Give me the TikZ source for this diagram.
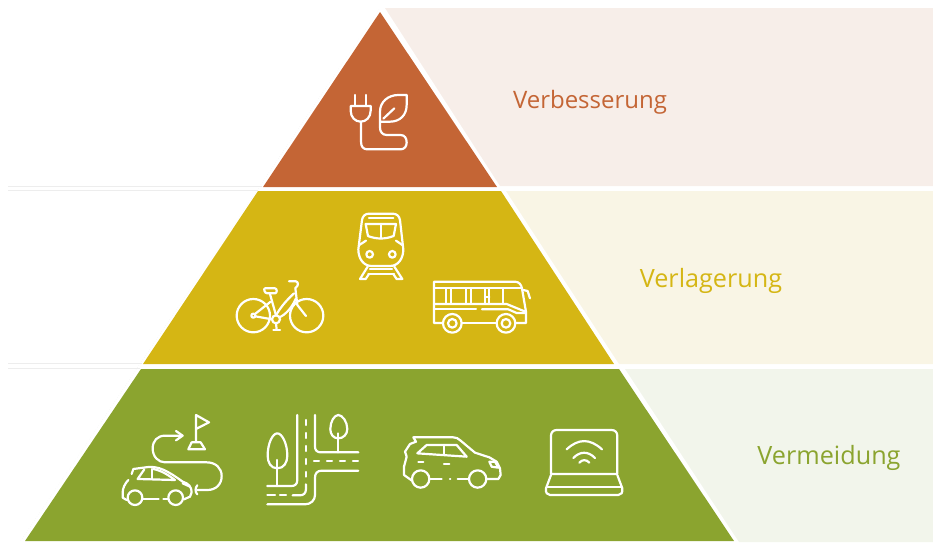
\documentclass[tikz,border=0pt]{standalone}
\usepackage{fontspec}
\setmainfont{Open Sans}
\definecolor{orangeband}{HTML}{C46535}
\definecolor{yellowband}{HTML}{D5B614}
\definecolor{greenband}{HTML}{8BA42F}
\definecolor{orangepanel}{HTML}{F7EEE9}
\definecolor{yellowpanel}{HTML}{F9F5E5}
\definecolor{greenpanel}{HTML}{F2F5EB}
\tikzset{
  icon/.style={draw=white, line width=2.2pt, line cap=round, line join=round},
  faint/.style={draw=black!7, line width=0.4pt},
  label/.style={font=\fontsize{24}{28}\selectfont},
  labelwide/.style={font=\fontsize{25.2}{29}\selectfont}
}
\begin{document}
\begin{tikzpicture}[x=1pt, y=-1pt]
        \useasboundingbox (0, 0) rectangle (933, 542);

        \fill [orangepanel] (385, 8) -- (933, 8) -- (933, 186) -- (500, 186) -- cycle;
        \fill [yellowpanel] (506, 191) -- (933, 191) -- (933, 364) -- (619, 364) -- cycle;
        \fill [greenpanel] (625, 369) -- (933, 369) -- (933, 542) -- (739, 542) -- cycle;

        \draw [faint] (8, 186) -- (262, 186);
        \draw [faint] (8, 190) -- (258, 190);
        \draw [faint] (8, 363) -- (142, 363);
        \draw [faint] (8, 368) -- (140, 368);
        \draw [faint, dotted] (379, 9) -- (20, 542);

        \fill [orangeband] (380, 12) -- (497, 187) -- (263, 187) -- cycle;
        \fill [yellowband] (258, 191) -- (501, 191) -- (614, 364) -- (143, 364) -- cycle;
        \fill [greenband] (141, 369) -- (619, 369) -- (734, 541) -- (25, 541) -- cycle;

        \node [label, text=orangeband] (verbesserung) at (590, 102) {Verbesserung};
        \node [labelwide, text=yellowband] (verlagerung) at (711, 281) {Verlagerung};
        \node [labelwide, text=greenband] (vermeidung) at (829, 458) {Vermeidung};

        % plug and leaf
        \begin{scope}[shift={(330, 80)}, x=0.3333pt, y=-0.3333pt]
          \draw [icon] (75, 45) -- (75, 78);
          \draw [icon] (107, 45) -- (107, 78);
          \draw [icon] (62, 78) -- (122, 78) -- (122, 92) .. controls (122, 112) and (108, 125) .. (92, 125)
            .. controls (76, 125) and (62, 112) .. (62, 92) -- cycle;
          \draw [icon] (93, 125) -- (93, 185) .. controls (93, 200) and (100, 208) .. (112, 208) -- (212, 208)
            .. controls (224, 208) and (230, 198) .. (230, 187) .. controls (230, 175) and (224, 165) .. (212, 165)
            -- (170, 165) .. controls (157, 165) and (150, 155) .. (150, 143) -- (150, 95)
            .. controls (150, 65) and (175, 45) .. (205, 45) -- (230, 45) -- (230, 75)
            .. controls (230, 105) and (210, 125) .. (180, 125) -- (152, 125);
          \draw [icon] (160, 116) -- (193, 85);
        \end{scope}

        % train
        \begin{scope}[shift={(220, 200)}, x=0.3333pt, y=-0.3333pt]
          \draw [icon] (415, 148) -- (426, 60) .. controls (428, 48) and (436, 41) .. (447, 41) -- (518, 41)
            .. controls (530, 41) and (538, 48) .. (540, 60) -- (550, 148)
            .. controls (550, 175) and (535, 198) .. (510, 198) -- (455, 198)
            .. controls (430, 198) and (415, 175) .. (415, 148);
          \draw [icon] (447, 54) -- (520, 54);
          \draw [icon] (437, 72) -- (528, 72) -- (521, 108) .. controls (495, 118) and (470, 118) .. (444, 108) -- cycle;
          \draw [icon] (483, 72) -- (483, 115);
          \draw [icon] (418, 135) -- (438, 122);
          \draw [icon] (547, 135) -- (528, 122);
          \draw [icon] (449, 163) circle (10);
          \draw [icon] (517, 163) circle (10);
          \draw [icon] (443, 200) -- (420, 237) -- (437, 237) -- (447, 222);
          \draw [icon] (523, 200) -- (547, 237) -- (530, 237) -- (520, 222);
          \draw [icon] (450, 208) -- (516, 208);
          \draw [icon] (445, 222) -- (522, 222);
        \end{scope}

        % bicycle
        \begin{scope}[shift={(220, 200)}, x=0.3333pt, y=-0.3333pt]
          \draw [icon] (100, 347) circle (50);
          \draw [icon] (260, 347) circle (50);
          \draw [icon] (100, 347) circle (6);
          \draw [icon] (168, 358) circle (12);
          \draw [icon] (135, 265) -- (165, 265) .. controls (172, 265) and (172, 280) .. (165, 280) -- (142, 280)
            .. controls (133, 280) and (130, 265) .. (135, 265);
          \draw [icon] (150, 282) -- (168, 346);
          \draw [icon] (105, 342) -- (152, 305);
          \draw [icon] (106, 349) -- (156, 358);
          \draw [icon] (168, 346) .. controls (180, 325) and (195, 305) .. (222, 280);
          \draw [icon] (178, 352) .. controls (195, 345) and (215, 325) .. (228, 295);
          \draw [icon] (207, 244) -- (228, 244) .. controls (236, 246) and (236, 258) .. (226, 264) -- (232, 315) -- (258, 348);
          \draw [icon] (168, 370) -- (170, 389);
          \draw [icon] (160, 390) -- (180, 390);
        \end{scope}

        % bus
        \begin{scope}[shift={(220, 200)}, x=0.3333pt, y=-0.3333pt]
          \draw [icon] (668, 369) -- (642, 369) -- (642, 245) -- (885, 245) .. controls (898, 245) and (904, 255) .. (906, 265)
            -- (918, 335) -- (918, 369) -- (887, 369);
          \draw [icon] (726, 369) -- (829, 369);
          \draw [icon] (697, 370) circle (28);
          \draw [icon] (697, 370) circle (13);
          \draw [icon] (858, 370) circle (28);
          \draw [icon] (858, 370) circle (13);
          \draw [icon] (642, 265) -- (905, 265);
          \draw [icon] (642, 312) -- (860, 312) -- (916, 335);
          \draw [icon] (642, 328) -- (768, 328);
          \draw [icon] (786, 328) -- (865, 328) -- (890, 339) -- (918, 339);
          \foreach \winx in {678, 692, 738, 752, 795, 808, 850} {
            \draw [icon] (\winx, 265) -- (\winx, 310);
          }
          \draw [icon] (795, 290) -- (808, 290);
          \draw [icon] (910, 270) -- (923, 273) -- (930, 295);
        \end{scope}

        % route with flag and small car
        \begin{scope}[shift={(110, 405)}, x=0.3333pt, y=-0.3333pt]
          \draw [icon] (258, 110) -- (258, 30) -- (297, 52) -- (258, 72);
          \draw [icon] (245, 112) -- (272, 112) -- (285, 133) -- (235, 133) -- cycle;
          \draw [icon] (198, 78) -- (218, 92) -- (198, 106);
          \draw [icon] (215, 92) -- (165, 92) .. controls (142, 92) and (128, 108) .. (128, 130)
            .. controls (128, 155) and (145, 172) .. (165, 172) -- (290, 172)
            .. controls (318, 172) and (335, 190) .. (335, 213) .. controls (335, 238) and (318, 255) .. (292, 255) -- (262, 255);
          \draw [icon] (262, 241) .. controls (255, 248) and (255, 262) .. (262, 268);
          \draw [icon] (65, 207) -- (70, 192) -- (115, 186) .. controls (145, 184) and (170, 195) .. (218, 230)
            .. controls (235, 235) and (245, 245) .. (245, 262) -- (240, 275) -- (222, 283);
          \draw [icon] (55, 225) .. controls (45, 235) and (38, 250) .. (38, 262) -- (38, 278) -- (50, 285);
          \draw [icon] (100, 283) -- (146, 283);
          \draw [icon] (160, 283) -- (173, 283);
          \draw [icon] (75, 278) circle (22);
          \draw [icon] (197, 278) circle (22);
          \draw [icon] (103, 193) -- (83, 222) -- (195, 225) .. controls (175, 210) and (155, 197) .. (130, 192);
          \draw [icon] (126, 192) -- (126, 222);
          \draw [icon] (218, 235) -- (240, 245);

          % roads and trees
          \draw [icon] (562, 30) -- (562, 225) .. controls (562, 237) and (555, 243) .. (545, 243) -- (472, 243);
          \draw [icon] (472, 298) -- (585, 298) .. controls (603, 298) and (615, 285) .. (615, 270) -- (615, 218)
            .. controls (615, 205) and (622, 197) .. (635, 197) -- (745, 197);
          \draw [icon] (615, 30) -- (615, 125) .. controls (615, 136) and (622, 142) .. (632, 142) -- (745, 142);
          \draw [icon, dash pattern=on 5pt off 8pt] (612, 168) -- (745, 168);
          \draw [icon, dash pattern=on 5pt off 8pt] (588, 45) -- (588, 215);
          \draw [icon] (588, 238) -- (588, 252) .. controls (588, 265) and (580, 271) .. (570, 271) -- (548, 271);
          \draw [icon] (472, 271) -- (495, 271);
          \draw [icon] (510, 271) -- (528, 271);
          \draw [icon] (502, 190) .. controls (482, 190) and (473, 172) .. (473, 152)
            .. controls (473, 115) and (488, 85) .. (502, 85) .. controls (516, 85) and (532, 115) .. (532, 152)
            .. controls (532, 172) and (522, 190) .. (502, 190);
          \draw [icon] (502, 165) -- (502, 243);
          \draw [icon] (685, 100) .. controls (670, 100) and (661, 88) .. (661, 72)
            .. controls (661, 50) and (673, 30) .. (685, 30) .. controls (697, 30) and (712, 50) .. (712, 72)
            .. controls (712, 88) and (700, 100) .. (685, 100);
          \draw [icon] (685, 85) -- (685, 142);
        \end{scope}

        % car
        \begin{scope}[shift={(390, 420)}, x=0.3333pt, y=-0.3333pt]
          \draw [icon] (92, 177) circle (26);
          \draw [icon] (263, 177) circle (26);
          \draw [icon] (120, 177) -- (155, 177);
          \draw [icon] (180, 177) -- (181, 177);
          \draw [icon] (203, 177) -- (237, 177);
          \draw [icon] (289, 177) -- (325, 177) -- (332, 165) -- (330, 145) -- (320, 125) -- (298, 112) -- (255, 98)
            -- (212, 62) .. controls (205, 55) and (198, 52) .. (190, 52) -- (70, 52) -- (78, 65) -- (60, 72)
            -- (45, 95) -- (50, 110) -- (42, 140) -- (42, 165) -- (66, 182);
          \draw [icon] (82, 100) -- (110, 75) -- (200, 75) -- (230, 110) -- cycle;
          \draw [icon] (161, 75) -- (161, 105);
          \draw [icon] (85, 125) -- (100, 125);
          \draw [icon] (162, 132) -- (178, 132);
          \draw [icon] (298, 125) -- (315, 125) -- (325, 143) -- (305, 140) -- cycle;

          % laptop
          \draw [icon] (483, 162) -- (483, 47) .. controls (483, 37) and (490, 30) .. (500, 30) -- (665, 30)
            .. controls (675, 30) and (682, 37) .. (682, 47) -- (682, 162) -- cycle;
          \draw [icon] (483, 165) -- (468, 205) .. controls (466, 218) and (472, 225) .. (480, 225) -- (685, 225)
            .. controls (693, 225) and (699, 218) .. (697, 205) -- (682, 165);
          \draw [icon] (470, 201) -- (695, 201);
          \draw [icon] (530, 88) .. controls (565, 55) and (600, 55) .. (636, 88);
          \draw [icon] (550, 114) .. controls (570, 93) and (595, 93) .. (615, 114);
          \draw [icon] (568, 128) .. controls (576, 118) and (590, 118) .. (598, 128);
        \end{scope}
      \end{tikzpicture}
\end{document}
